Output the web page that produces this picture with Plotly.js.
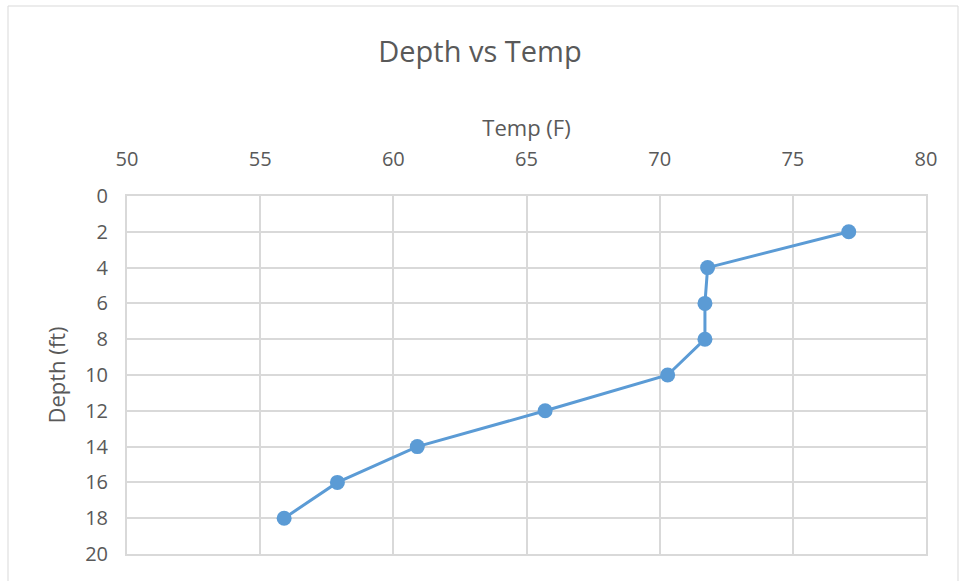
<!DOCTYPE html>
<html>
<head>
<meta charset="utf-8">
<script src="https://cdn.plot.ly/plotly-3.0.1.min.js"></script>
<style>
html,body{margin:0;padding:0;background:#fff;}
#chart{width:960px;height:581px;}
</style>
</head>
<body>
<div id="chart"></div>
<script>
const temps = [77.1, 71.8, 71.7, 71.7, 70.3, 65.7, 60.9, 57.9, 55.9];
const depths = [2, 4, 6, 8, 10, 12, 14, 16, 18];
const xTicks = [50, 55, 60, 65, 70, 75, 80];
const yTicks = [0, 2, 4, 6, 8, 10, 12, 14, 16, 18, 20];

const L = 127, R = 926, T = 196, B = 554, W = 960, H = 581;
const pw = R - L, ph = B - T;
function px(x){ return (x - L) / pw; }
function py(y){ return (B - y) / ph; }

const font = "'Open Sans', 'Liberation Sans', sans-serif";
const textColor = '#595959';

const trace = {
  x: temps, y: depths,
  type: 'scatter', mode: 'lines+markers',
  line: {color: '#5b9bd5', width: 3},
  marker: {color: '#5b9bd5', size: 15},
  hoverinfo: 'x+y'
};

const layout = {
  width: W, height: H,
  margin: {l: L, r: W - R, t: T, b: H - B, pad: 0},
  paper_bgcolor: '#ffffff', plot_bgcolor: '#ffffff',
  showlegend: false,
  title: {text: 'Depth vs Temp', font: {family: font, size: 29, color: textColor}, x: 0.5, xanchor: 'center', y: 1 - 52 / H, yanchor: 'middle'},
  xaxis: {
    side: 'top', range: [50, 80], tickvals: xTicks, ticktext: xTicks.map(String),
    showgrid: true, gridcolor: '#d9d9d9', gridwidth: 2,
    showline: true, linecolor: '#d9d9d9', linewidth: 2, mirror: true,
    zeroline: false, ticks: '', ticklen: 0, ticklabelstandoff: 20,
    tickfont: {family: font, size: 20, color: textColor},
    title: {text: 'Temp (F)', font: {family: font, size: 22, color: textColor}, standoff: 2}
  },
  yaxis: {
    range: [20, 0], tickvals: yTicks, ticktext: yTicks.map(String),
    showgrid: true, gridcolor: '#d9d9d9', gridwidth: 2,
    showline: true, linecolor: '#d9d9d9', linewidth: 2, mirror: true,
    zeroline: false, ticks: '', ticklen: 0, ticklabelstandoff: 13,
    tickfont: {family: font, size: 20, color: textColor},
    title: {text: 'Depth (ft)', font: {family: font, size: 22, color: textColor}, standoff: 13}
  },
  shapes: [{
    type: 'rect', xref: 'paper', yref: 'paper', layer: 'below',
    x0: px(8), x1: px(958), y0: py(590), y1: py(6),
    line: {color: '#d9d9d9', width: 1}, fillcolor: 'rgba(0,0,0,0)'
  }]
};

Plotly.newPlot('chart', [trace], layout, {displayModeBar: false, staticPlot: true});
</script>
</body>
</html>
